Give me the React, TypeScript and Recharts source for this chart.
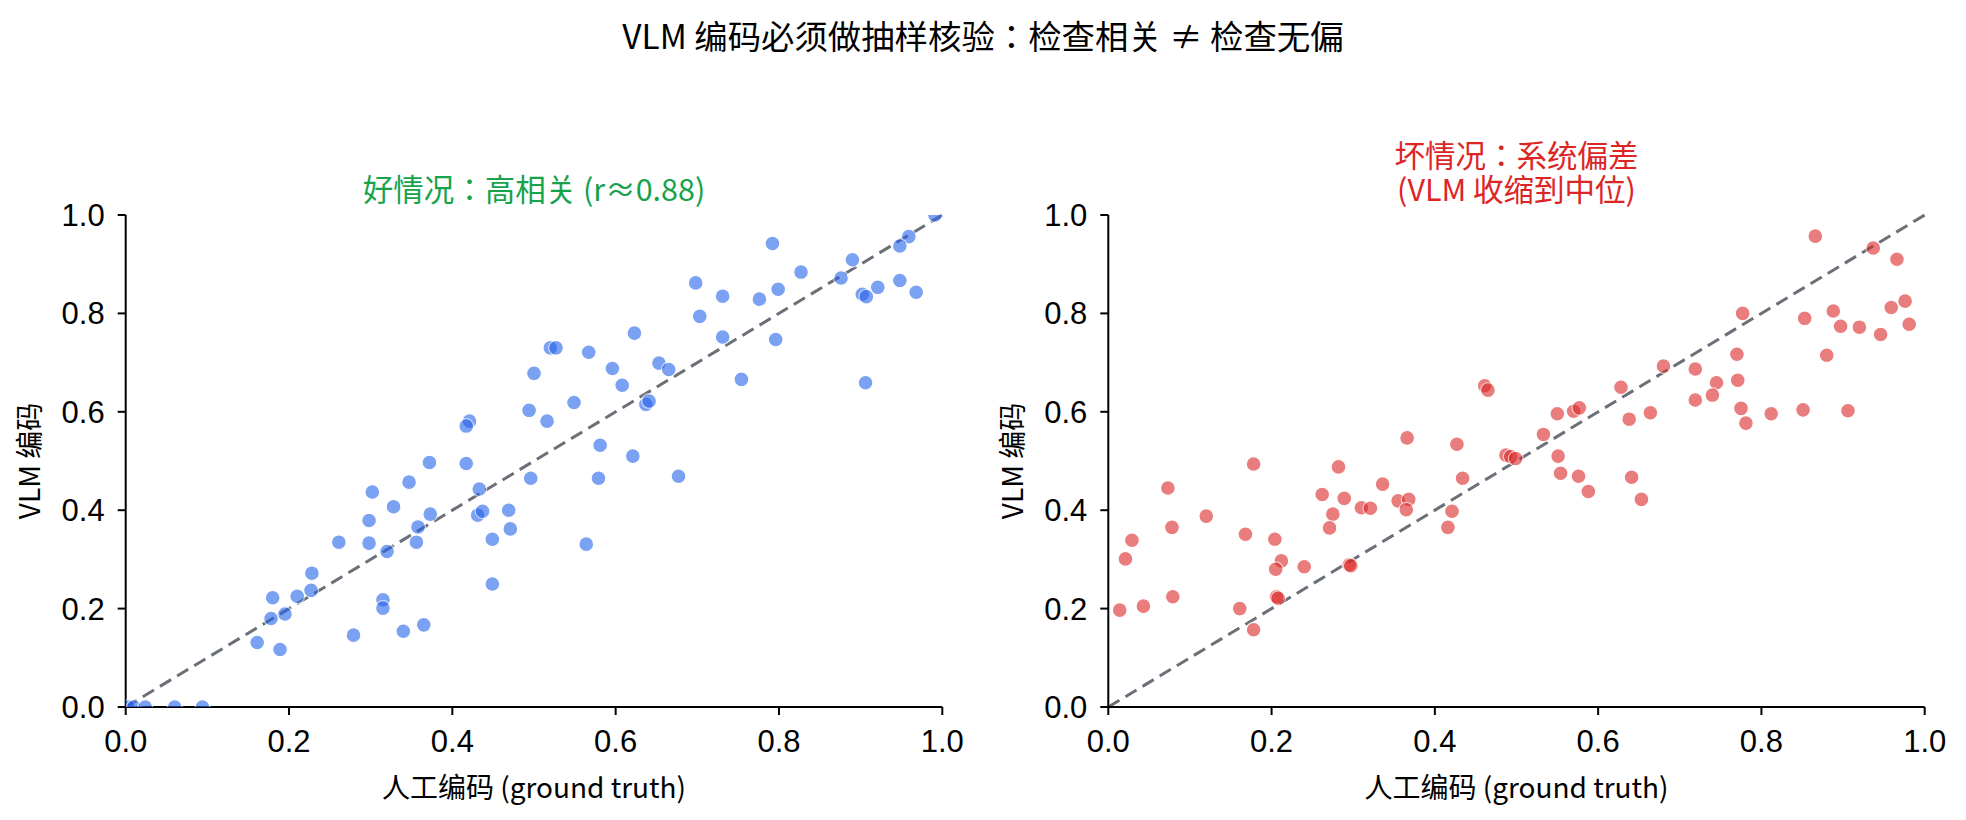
import React from 'react';
import {
  ReferenceLine,
  Scatter,
  ScatterChart,
  XAxis,
  YAxis
} from 'recharts';

// human code (x) vs VLM code (y), good case: tight around the diagonal
const goodPoints: [number, number][] = [
  [0.991, 1.0], [0.959, 0.956], [0.948, 0.937], [0.792, 0.942], [0.89, 0.909],
  [0.827, 0.884], [0.876, 0.872], [0.698, 0.862], [0.731, 0.835], [0.799, 0.849],
  [0.776, 0.829], [0.948, 0.867], [0.921, 0.853], [0.902, 0.839], [0.907, 0.834],
  [0.968, 0.843], [0.703, 0.794], [0.731, 0.752], [0.796, 0.747], [0.623, 0.76],
  [0.52, 0.73], [0.527, 0.73], [0.5, 0.678], [0.567, 0.721], [0.596, 0.688],
  [0.608, 0.654], [0.549, 0.619], [0.494, 0.603], [0.516, 0.581], [0.653, 0.699],
  [0.665, 0.686], [0.637, 0.615], [0.641, 0.622], [0.754, 0.666], [0.906, 0.659],
  [0.581, 0.532], [0.621, 0.51], [0.677, 0.469], [0.496, 0.465], [0.579, 0.465],
  [0.564, 0.331], [0.421, 0.581], [0.417, 0.571], [0.372, 0.497], [0.417, 0.495],
  [0.347, 0.457], [0.433, 0.443], [0.302, 0.437], [0.328, 0.407], [0.373, 0.392],
  [0.431, 0.39], [0.437, 0.398], [0.469, 0.4], [0.358, 0.366], [0.471, 0.362],
  [0.298, 0.379], [0.298, 0.333], [0.356, 0.335], [0.449, 0.341], [0.261, 0.335],
  [0.32, 0.316], [0.449, 0.25], [0.228, 0.272], [0.227, 0.237], [0.21, 0.225],
  [0.18, 0.222], [0.315, 0.218], [0.315, 0.201], [0.178, 0.18], [0.195, 0.189],
  [0.161, 0.131], [0.189, 0.117], [0.279, 0.146], [0.34, 0.154], [0.365, 0.167],
  [0.003, 0.0], [0.01, 0.0], [0.024, 0.0], [0.06, 0.0], [0.094, 0.0]
];

// bad case: VLM codes pulled toward the middle
const badPoints: [number, number][] = [
  [0.866, 0.957], [0.937, 0.933], [0.966, 0.91], [0.777, 0.8], [0.853, 0.79],
  [0.888, 0.805], [0.897, 0.774], [0.92, 0.772], [0.959, 0.812], [0.976, 0.825],
  [0.946, 0.757], [0.981, 0.778], [0.88, 0.715], [0.77, 0.717], [0.68, 0.693],
  [0.719, 0.687], [0.771, 0.664], [0.745, 0.659], [0.74, 0.634], [0.719, 0.624],
  [0.775, 0.607], [0.781, 0.577], [0.812, 0.596], [0.851, 0.604], [0.906, 0.602],
  [0.628, 0.65], [0.664, 0.598], [0.638, 0.585], [0.55, 0.596], [0.57, 0.601],
  [0.577, 0.608], [0.533, 0.554], [0.551, 0.51], [0.461, 0.653], [0.465, 0.644],
  [0.366, 0.547], [0.427, 0.534], [0.487, 0.512], [0.493, 0.509], [0.499, 0.505],
  [0.178, 0.494], [0.282, 0.488], [0.073, 0.445], [0.336, 0.453], [0.434, 0.465],
  [0.262, 0.432], [0.289, 0.424], [0.355, 0.419], [0.368, 0.422], [0.365, 0.401],
  [0.31, 0.405], [0.321, 0.404], [0.275, 0.392], [0.421, 0.398], [0.416, 0.365],
  [0.12, 0.388], [0.271, 0.364], [0.078, 0.365], [0.168, 0.351], [0.204, 0.341],
  [0.029, 0.339], [0.021, 0.301], [0.212, 0.297], [0.205, 0.28], [0.24, 0.285],
  [0.295, 0.289], [0.297, 0.287], [0.079, 0.224], [0.043, 0.205], [0.014, 0.197],
  [0.161, 0.2], [0.206, 0.224], [0.208, 0.221], [0.178, 0.157], [0.554, 0.475],
  [0.576, 0.469], [0.588, 0.438], [0.641, 0.467], [0.653, 0.422]
];

const axisTicks = [0, 0.2, 0.4, 0.6, 0.8, 1.0];

const FONT = "'Noto Sans CJK JP', 'Noto Sans CJK SC', sans-serif";
const TICK_FONT = "'Liberation Sans', Arial, sans-serif";
const PANEL_W = 983;
const PANEL_H = 820;

type PanelProps = {
  points: [number, number][];
  color: string;
  left: number;
  marginLeft: number;
  marginRight: number;
};

const Panel = ({ points, color, left, marginLeft, marginRight }: PanelProps) => {
  const data = points.map(([x, y]) => ({ x, y }));
  return (
    <div style={{ position: 'absolute', left, top: 0 }}>
      <ScatterChart
        width={PANEL_W}
        height={PANEL_H}
        margin={{ top: 215, right: marginRight, bottom: 33, left: marginLeft }}
      >
        <XAxis
          type="number"
          dataKey="x"
          domain={[0, 1]}
          ticks={axisTicks}
          allowDataOverflow
          tickFormatter={(v: number) => v.toFixed(1)}
          axisLine={{ stroke: '#000', strokeWidth: 2 }}
          tickLine={{ stroke: '#000', strokeWidth: 2 }}
          tickSize={8}
          tickMargin={15}
          tick={{ fill: '#000', fontSize: 31, fontFamily: TICK_FONT }}
          height={80}
          label={{
            content: ({ viewBox }: any) => (
              <text
                x={viewBox.x + viewBox.width / 2}
                y={786}
                textAnchor="middle"
                dominantBaseline="central"
                fontSize={28}
                fontFamily={FONT}
                fill="#000"
              >
                人工编码 (ground truth)
              </text>
            )
          }}
        />
        <YAxis
          type="number"
          dataKey="y"
          domain={[0, 1]}
          ticks={axisTicks}
          allowDataOverflow
          tickFormatter={(v: number) => v.toFixed(1)}
          axisLine={{ stroke: '#000', strokeWidth: 2 }}
          tickLine={{ stroke: '#000', strokeWidth: 2 }}
          tickSize={8}
          tickMargin={13}
          tick={{ fill: '#000', fontSize: 31, fontFamily: TICK_FONT }}
          width={100}
          label={{
            content: () => (
              <text
                x={28}
                y={461}
                transform="rotate(-90 28 461)"
                textAnchor="middle"
                dominantBaseline="central"
                fontSize={28}
                fontFamily={FONT}
                fill="#000"
              >
                VLM 编码
              </text>
            )
          }}
        />
        <ReferenceLine
          segment={[{ x: 0, y: 0 }, { x: 1, y: 1 }]}
          stroke="#6b7078"
          strokeWidth={3}
          strokeDasharray="13 7"
        />
        <Scatter
          data={data}
          isAnimationActive={false}
          shape={(p: any) => (
            <circle
              cx={p.cx}
              cy={p.cy}
              r={7.4}
              fill={color}
              stroke="#fff"
              strokeWidth={1.2}
              opacity={0.6}
            />
          )}
        />
      </ScatterChart>
    </div>
  );
};

// figure title and the two panel titles, drawn above the charts
const Titles = () => (
  <svg
    width={1966}
    height={210}
    style={{ position: 'absolute', left: 0, top: 0 }}
    fontFamily={FONT}
  >
    <text x={983} y={34} textAnchor="middle" dominantBaseline="central" fontSize={33.4} fill="#000">
      VLM 编码必须做抽样核验：检查相关 ≠ 检查无偏
    </text>
    <text x={534} y={188} textAnchor="middle" dominantBaseline="central" fontSize={30.5} fill="#16a34a">
      好情况：高相关 (r≈0.88)
    </text>
    <text textAnchor="middle" dominantBaseline="central" fontSize={30.5} fill="#dc2626">
      <tspan x={1516.5} y={154}>坏情况：系统偏差</tspan>
      <tspan x={1516.5} y={188}>(VLM 收缩到中位)</tspan>
    </text>
  </svg>
);

export default function App() {
  return (
    <div
      style={{
        position: 'absolute',
        left: 0,
        top: 0,
        width: 1966,
        height: 820,
        background: '#fff',
        overflow: 'hidden'
      }}
    >
      <Panel points={goodPoints} color="#2563eb" left={0} marginLeft={25.7} marginRight={40.7} />
      <Panel points={badPoints} color="#dc2626" left={983} marginLeft={25.3} marginRight={41.3} />
      <Titles />
    </div>
  );
}
